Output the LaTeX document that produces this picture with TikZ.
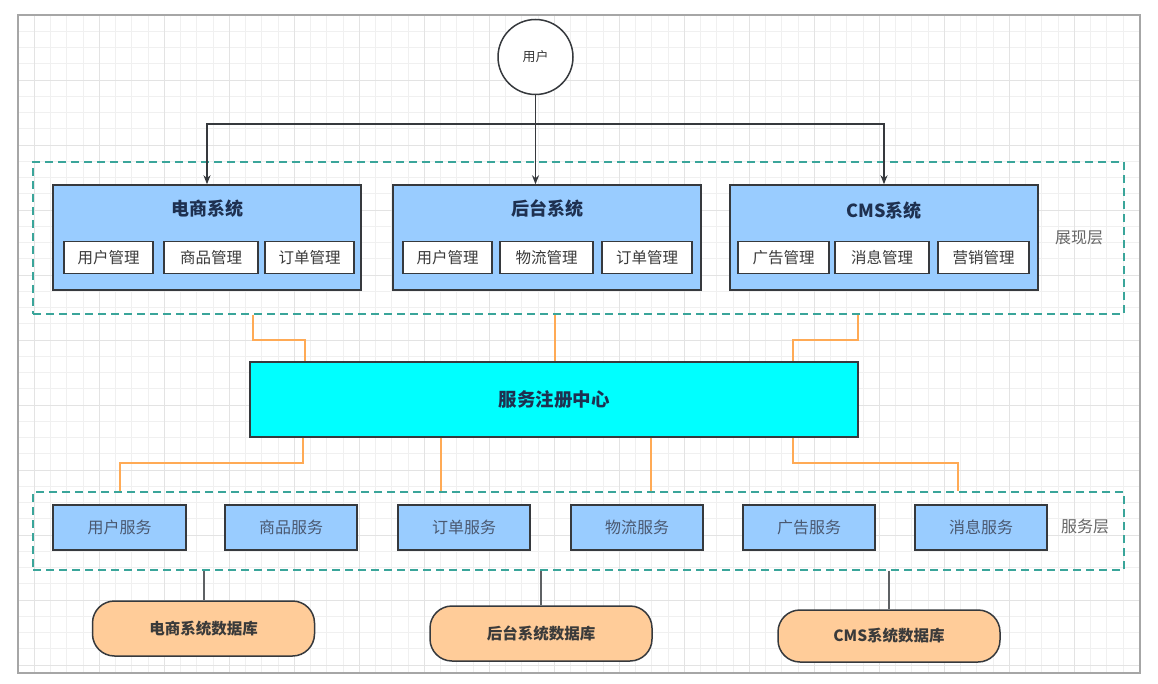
\documentclass[tikz,border=0pt]{standalone}
\usepackage{fontspec}
\newfontfamily\cjk{Noto Sans CJK SC}
\usetikzlibrary{calc,arrows.meta}
\definecolor{sysblue}{HTML}{99CCFF}
\definecolor{regcyan}{HTML}{00FFFF}
\definecolor{edge}{HTML}{36393D}
\definecolor{teal}{HTML}{3AA59A}
\definecolor{orng}{HTML}{FFAA55}
\definecolor{dbfill}{HTML}{FFCC99}
\definecolor{navy}{HTML}{1E3050}
\definecolor{txt}{HTML}{3A3A3A}
\definecolor{svctxt}{HTML}{4A5870}
\begin{document}
\begin{tikzpicture}[x=1pt,y=-1pt,
  sysbox/.style={draw=edge,line width=1.5pt,fill=sysblue,inner sep=0pt,minimum height=105pt,minimum width=308pt},
  subbox/.style={draw=edge,line width=1.5pt,fill=white,inner sep=0pt,minimum height=32pt,font=\cjk\fontsize{15.5}{15.5}\selectfont,text=txt},
  title/.style={font=\cjk\bfseries\fontsize{18}{18}\selectfont,text=navy,inner sep=0pt},
  layer/.style={draw=teal,line width=1.4pt,dash pattern=on 8pt off 5pt,inner sep=0pt},
  layerlabel/.style={font=\cjk\fontsize{16}{16}\selectfont,text=gray!80!black,inner sep=0pt},
  svc/.style={draw=edge,line width=1.5pt,fill=sysblue,inner sep=0pt,minimum height=45pt,minimum width=132pt,font=\cjk\fontsize{16}{16}\selectfont,text=svctxt},
  db/.style={draw=edge,line width=1.5pt,fill=dbfill,rounded corners=22pt,inner sep=0pt,minimum width=222pt,font=\cjk\bfseries\fontsize{15.5}{15.5}\selectfont,text=txt},
  arr/.style={draw=edge,line width=1.5pt,-{Stealth[length=9pt,width=7pt]}},
  org/.style={draw=orng,line width=2pt},
  dbline/.style={draw=edge!80,line width=2pt}]
\useasboundingbox (0,0) rectangle (1158,684);
\fill[white] (0,0) rectangle (1158,684);
% grid
\begin{scope}
\clip (18,15) rectangle (1140,673);
\foreach \i in {0,...,72} {
  \pgfmathsetmacro{\xx}{18+\i*16.25}
  \draw[gray!12,line width=0.6pt] (\xx,15) -- (\xx,673);
}
\foreach \i in {0,...,42} {
  \pgfmathsetmacro{\yy}{15+\i*16.25}
  \draw[gray!12,line width=0.6pt] (18,\yy) -- (1140,\yy);
}
\foreach \i in {0,...,18} {
  \pgfmathsetmacro{\xx}{34.25+\i*65}
  \draw[gray!22,line width=0.7pt] (\xx,15) -- (\xx,673);
}
\foreach \i in {0,...,10} {
  \pgfmathsetmacro{\yy}{15+\i*65}
  \draw[gray!22,line width=0.7pt] (18,\yy) -- (1140,\yy);
}
\end{scope}
\draw[gray!70,line width=1.5pt] (18,15) rectangle (1140,673);

% user
\node[draw=edge,line width=1.5pt,fill=white,circle,minimum size=75pt,inner sep=0pt,font=\cjk\fontsize{13}{13}\selectfont,text=txt] (user) at (535.5,57) {用户};

% presentation layer
\node[layer,minimum width=1091pt,minimum height=152pt] (pl) at (578.5,238) {};
\node[layerlabel] (pll) at (1079,238) {展现层};

\node[sysbox] (eb) at (207,237.5) {};
\node[title] (ebt) at (207,209) {电商系统};
\node[subbox,minimum width=89pt] (eb1) at (108.5,257.5) {用户管理};
\node[subbox,minimum width=94pt] (eb2) at (211,257.5) {商品管理};
\node[subbox,minimum width=89pt] (eb3) at (309.5,257.5) {订单管理};

\node[sysbox] (hb) at (547,237.5) {};
\node[title] (hbt) at (547,209) {后台系统};
\node[subbox,minimum width=89pt] (hb1) at (447.5,257.5) {用户管理};
\node[subbox,minimum width=93pt] (hb2) at (546.5,257.5) {物流管理};
\node[subbox,minimum width=90pt] (hb3) at (647,257.5) {订单管理};

\node[sysbox] (cms) at (884,237.5) {};
\node[title] (cmst) at (884,211) {CMS系统};
\node[subbox,minimum width=91pt] (cms1) at (783.5,257.5) {广告管理};
\node[subbox,minimum width=94pt] (cms2) at (882,257.5) {消息管理};
\node[subbox,minimum width=91pt] (cms3) at (983.5,257.5) {营销管理};

% user arrows
\coordinate (j) at (user.south |- 0,124);
\draw[arr] (user.south) -- (user.south |- hb.north);
\draw[arr] (j) -| (eb.north);
\draw[arr] (j) -| (cms.north);

% registry
\node[draw=edge,line width=1.5pt,fill=regcyan,inner sep=0pt,minimum width=608pt,minimum height=75pt,font=\cjk\bfseries\fontsize{18.5}{18.5}\selectfont,text=navy] (reg) at (554,399.5) {服务注册中心};

% service layer
\node[layer,minimum width=1091pt,minimum height=78pt] (sl) at (578.5,531) {};
\node[layerlabel] (sll) at (1085,526) {服务层};
\node[svc,minimum width=133pt] (s1) at (119.5,527.5) {用户服务};
\node[svc] (s2) at (291,527.5) {商品服务};
\node[svc] (s3) at (464,527.5) {订单服务};
\node[svc] (s4) at (637,527.5) {物流服务};
\node[svc] (s5) at (809,527.5) {广告服务};
\node[svc] (s6) at (981,527.5) {消息服务};

% orange connectors
\draw[org] (pl.south -| 253,0) |- (305,340) -- (reg.north -| 305,0);
\draw[org] (pl.south -| 555,0) -- (reg.north -| 555,0);
\draw[org] (pl.south -| 858,0) |- (793,340) -- (reg.north -| 793,0);
\draw[org] (reg.south -| 303,0) |- (120,463) -- (sl.north -| 120,0);
\draw[org] (reg.south -| 441,0) -- (sl.north -| 441,0);
\draw[org] (reg.south -| 651,0) -- (sl.north -| 651,0);
\draw[org] (reg.south -| 793,0) |- (958,463) -- (sl.north -| 958,0);

% databases
\node[db,minimum height=55pt] (d1) at (203.5,628.5) {电商系统数据库};
\node[db,minimum height=55pt] (d2) at (541,633.5) {后台系统数据库};
\node[db,minimum height=52pt] (d3) at (889,636) {CMS系统数据库};
\draw[dbline] (sl.south -| d1.north) -- (d1.north);
\draw[dbline] (sl.south -| d2.north) -- (d2.north);
\draw[dbline] (sl.south -| d3.north) -- (d3.north);
\end{tikzpicture}
\end{document}
